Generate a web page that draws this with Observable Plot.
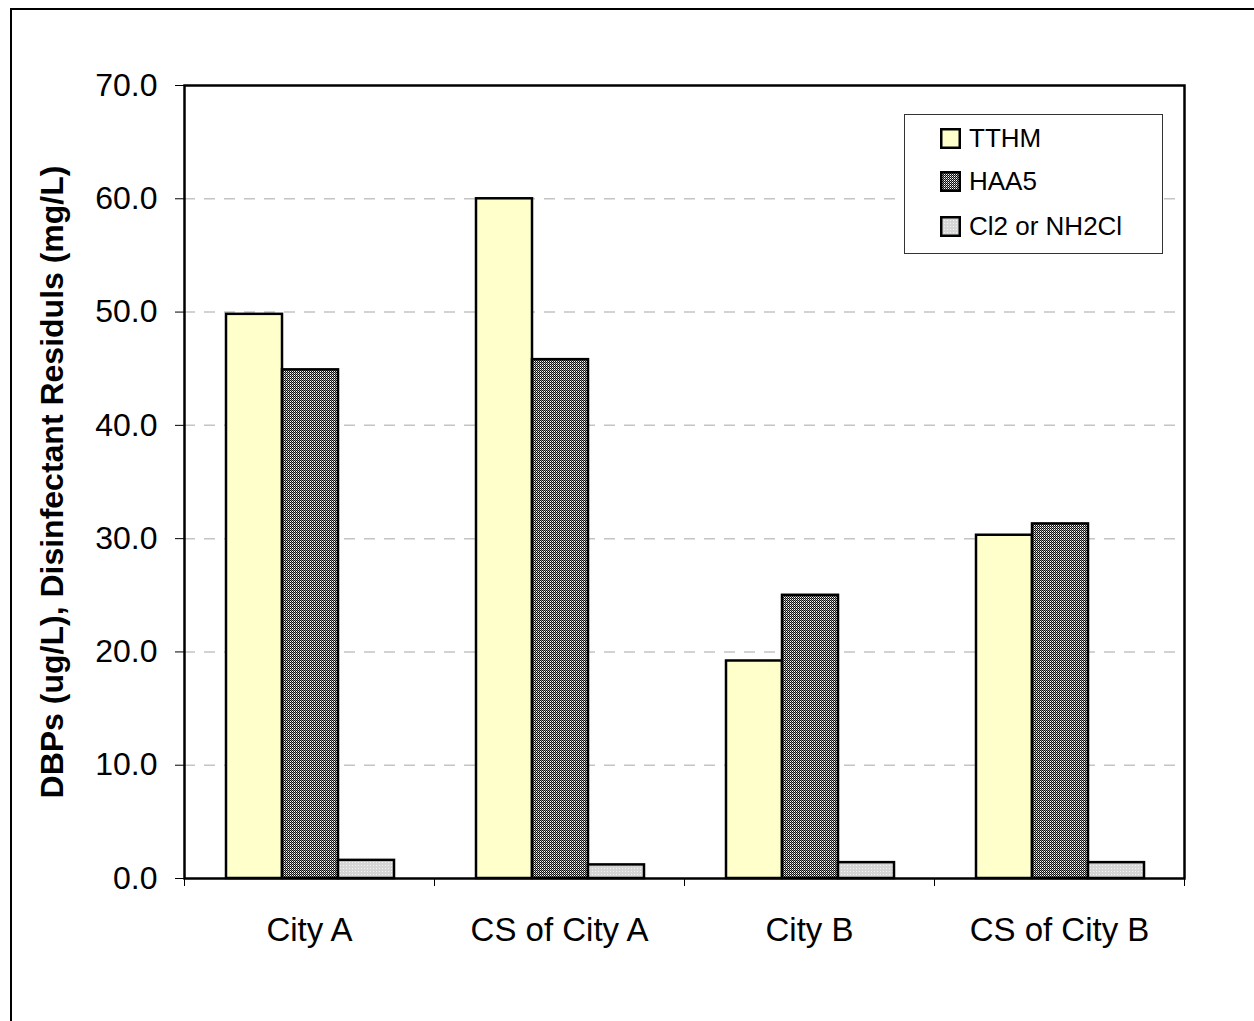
<!DOCTYPE html>
<html>
<head>
<meta charset="utf-8">
<script src="https://cdn.jsdelivr.net/npm/d3@7"></script>
<script src="https://cdn.jsdelivr.net/npm/@observablehq/plot@0.6"></script>
<style>
  html, body { margin: 0; padding: 0; background: #fff; }
  body { width: 1254px; height: 1021px; position: relative; overflow: hidden;
         font-family: "Liberation Sans", Arial, sans-serif; }
  #outer { position: absolute; left: 10px; top: 8px; width: 1400px; height: 1200px;
           border-left: 2px solid #000; border-top: 2px solid #000; box-sizing: border-box; }
  #chart { position: absolute; left: 0; top: 0; }
  #legend { position: absolute; left: 904px; top: 114px; width: 259px; height: 140px;
            box-sizing: border-box; border: 1.5px solid #333; background: #fff; }
  .item { position: absolute; left: 35px; display: flex; align-items: center; font-size: 26px; color: #000; }
  .item svg { margin-right: 8px; }
</style>
</head>
<body>
<svg width="0" height="0" style="position:absolute">
  <defs>
    <pattern id="haa5-hatch" width="2" height="2" patternUnits="userSpaceOnUse">
      <rect width="2" height="2" fill="#fff"/>
      <rect x="0" y="0" width="1" height="1" fill="#111"/>
      <rect x="1" y="1" width="1" height="1" fill="#111"/>
      <rect x="1" y="0" width="1" height="1" fill="#8c8c8c"/>
    </pattern>
    <pattern id="residual-dots" width="3" height="3" patternUnits="userSpaceOnUse">
      <rect width="3" height="3" fill="#d6d6d6"/>
      <rect x="1" y="1" width="1" height="1" fill="#f4f4f4"/>
    </pattern>
  </defs>
</svg>
<div id="outer"></div>
<div id="chart"></div>
<div id="legend"></div>
<script>
// Sampling sites along the x axis
const categories = ["City A", "CS of City A", "City B", "CS of City B"];
// Measured quantities (one bar each per site)
const series = ["TTHM", "HAA5", "Cl2 or NH2Cl"];
// DBPs in ug/L, residual in mg/L
const tthm = [49.8, 60.0, 19.2, 30.3];
const haa5 = [44.9, 45.8, 25.0, 31.3];
const residual = [1.6, 1.2, 1.4, 1.4];
// Value axis ticks
const yTicks = [0, 10, 20, 30, 40, 50, 60, 70];

const seriesValues = [tthm, haa5, residual];
const fills = ["#ffffcc", "url(#haa5-hatch)", "url(#residual-dots)"];

// Long table: one row per site and quantity
const rows = categories.flatMap((category, i) =>
  series.map((name, j) => ({category, i, name, j, value: seriesValues[j][i]}))
);

// Each site occupies one unit of x; the three bars sit centred in it
const groupInset = 0.168;
const barSpan = 0.224;

const chart = Plot.plot({
  width: 1254,
  height: 1021,
  marginLeft: 184,
  marginRight: 70,
  marginTop: 85,
  marginBottom: 143,
  style: {fontFamily: "'Liberation Sans', Arial, sans-serif", fontSize: "32px", background: "transparent", overflow: "visible"},
  x: {domain: [0, categories.length], ticks: d3.range(categories.length + 1), tickFormat: () => "", tickSize: 8, label: null},
  y: {domain: [0, 70], ticks: yTicks, tickFormat: d => d.toFixed(1), tickSize: 9, tickPadding: 18, label: null},
  color: {domain: series, range: fills},
  marks: [
    Plot.ruleY(yTicks.filter(t => t > 0 && t < 70), {stroke: "#c4c4c4", strokeWidth: 1.5, strokeDasharray: "11,9"}),
    Plot.rectY(rows, {
      x1: d => d.i + groupInset + d.j * barSpan,
      x2: d => d.i + groupInset + (d.j + 1) * barSpan,
      y: "value",
      fill: "name",
      stroke: "#000",
      strokeWidth: 2.5
    }),
    Plot.frame({stroke: "#000", strokeWidth: 2.5}),
    Plot.text(categories, {
      x: (d, i) => i + 0.5,
      y: () => 0,
      dy: 52,
      fontSize: 33,
      lineAnchor: "middle",
      fill: "#000"
    }),
    Plot.text(["DBPs (ug/L), Disinfectant Residuls (mg/L)"], {
      frameAnchor: "left",
      rotate: -90,
      dx: -132,
      fontSize: 32,
      fontWeight: "bold",
      textAnchor: "middle",
      lineAnchor: "middle",
      fill: "#000"
    })
  ]
});
document.getElementById("chart").appendChild(chart);

// Legend box with one swatch per quantity
const legend = document.getElementById("legend");
const rowTops = [8, 51, 96];
series.forEach((name, j) => {
  const item = document.createElement("div");
  item.className = "item";
  item.style.top = rowTops[j] + "px";
  item.innerHTML = `<svg width="21" height="21"><rect x="1.25" y="1.25" width="18.5" height="18.5" fill="${fills[j]}" stroke="#000" stroke-width="2.5"/></svg><span>${name}</span>`;
  legend.appendChild(item);
});
</script>
</body>
</html>
